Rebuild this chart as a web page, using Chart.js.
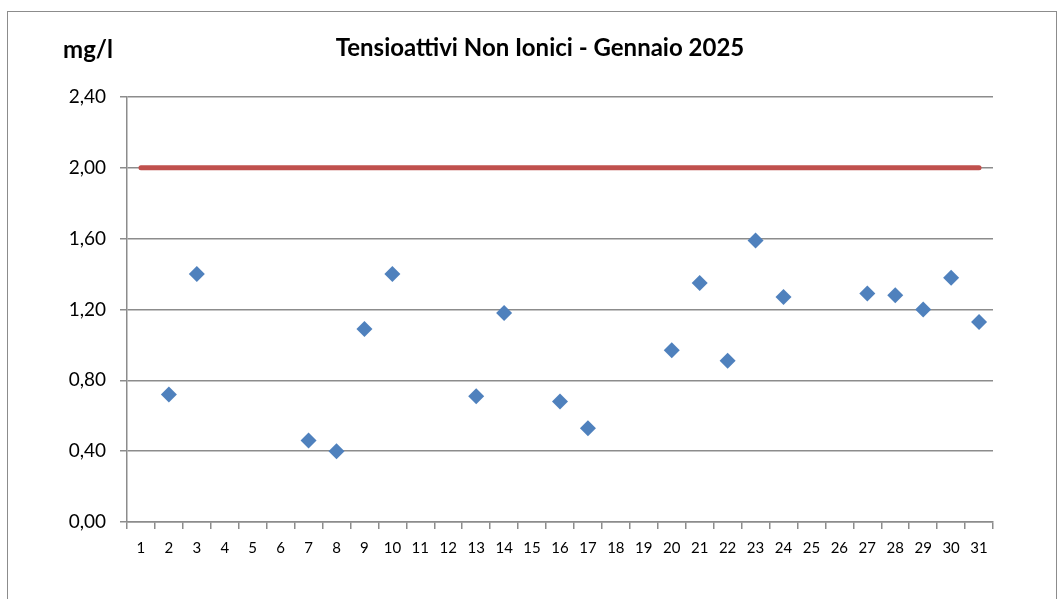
<!DOCTYPE html>
<html>
<head>
<meta charset="utf-8">
<script src="https://cdn.jsdelivr.net/npm/chart.js@4.4.1/dist/chart.umd.min.js"></script>
<style>
  html, body { margin: 0; padding: 0; background: #fff; }
  #wrap { position: relative; width: 1061px; height: 599px; overflow: hidden; }
  #frame { position: absolute; left: 7px; top: 11px; width: 1050px; height: 600px; border: 1.5px solid #8c8c8c; box-sizing: border-box; }
  #tensioChart { position: absolute; left: 0; top: 0; }
</style>
</head>
<body>
<div id="wrap">
  <div id="frame"></div>
  <canvas id="tensioChart" width="1061" height="599"></canvas>
</div>
<script>
// giorni del mese
const days = ['1','2','3','4','5','6','7','8','9','10','11','12','13','14','15','16','17','18','19','20','21','22','23','24','25','26','27','28','29','30','31'];
// valori misurati (mg/l), null = nessun campione
const measured = [null,0.72,1.40,null,null,null,0.46,0.40,1.09,1.40,null,null,0.71,1.18,null,0.68,0.53,null,null,0.97,1.35,0.91,1.59,1.27,null,null,1.29,1.28,1.20,1.38,1.13];
// limite di legge
const limit = [2,2,2,2,2,2,2,2,2,2,2,2,2,2,2,2,2,2,2,2,2,2,2,2,2,2,2,2,2,2,2];
const yTicks = [0, 0.4, 0.8, 1.2, 1.6, 2.0, 2.4];

const chartTitle = 'Tensioattivi Non Ionici - Gennaio 2025';
const unitLabel = 'mg/l';

const fontName = 'Lato, "Open Sans", sans-serif';

const titlesPlugin = {
  id: 'titles',
  afterDraw(chart) {
    const ctx = chart.ctx;
    ctx.save();
    ctx.fillStyle = '#000';
    ctx.textBaseline = 'middle';
    ctx.textAlign = 'center';
    ctx.font = 'bold 24px ' + fontName;
    ctx.fillText(chartTitle, 540, 48);
    ctx.font = 'bold 24px ' + fontName;
    ctx.fillText(unitLabel, 88, 50);
    ctx.restore();
  }
};

new Chart('tensioChart', {
  type: 'line',
  data: {
    labels: days,
    datasets: [
      {
        label: 'Valori',
        data: measured,
        showLine: false,
        pointStyle: 'rectRot',
        pointRadius: 8,
        pointHoverRadius: 8,
        pointBackgroundColor: '#4F81BD',
        pointBorderColor: '#4F81BD',
        pointBorderWidth: 0,
        order: 1
      },
      {
        label: 'Limite',
        data: limit,
        borderColor: '#C0504D',
        borderWidth: 5,
        borderCapStyle: 'round',
        pointRadius: 0,
        order: 2
      }
    ]
  },
  options: {
    responsive: false,
    animation: false,
    devicePixelRatio: 1,
    layout: { padding: { left: 0, top: 97, right: 68, bottom: 0 } },
    plugins: {
      legend: { display: false },
      title: { display: false },
      tooltip: { enabled: false }
    },
    scales: {
      x: {
        offset: true,
        grid: {
          offset: true,
          drawOnChartArea: false,
          drawTicks: true,
          tickLength: 7,
          color: '#8c8c8c',
          lineWidth: 1.5
        },
        border: { color: '#8c8c8c', width: 1.5 },
        ticks: {
          color: '#000',
          font: { family: fontName, size: 15 },
          padding: 10,
          maxRotation: 0,
          autoSkip: false
        },
        afterFit(scale) { scale.height = 77; }
      },
      y: {
        min: 0,
        max: 2.4,
        afterBuildTicks(scale) { scale.ticks = yTicks.map(v => ({ value: v })); },
        grid: {
          color: '#8c8c8c',
          lineWidth: 1.5,
          tickLength: 7
        },
        border: { color: '#8c8c8c', width: 1.5 },
        ticks: {
          color: '#000',
          font: { family: fontName, size: 19 },
          padding: 14,
          callback: v => v.toFixed(2).replace('.', ',')
        },
        afterFit(scale) { scale.width = 127; }
      }
    }
  },
  plugins: [titlesPlugin]
});
</script>
</body>
</html>
